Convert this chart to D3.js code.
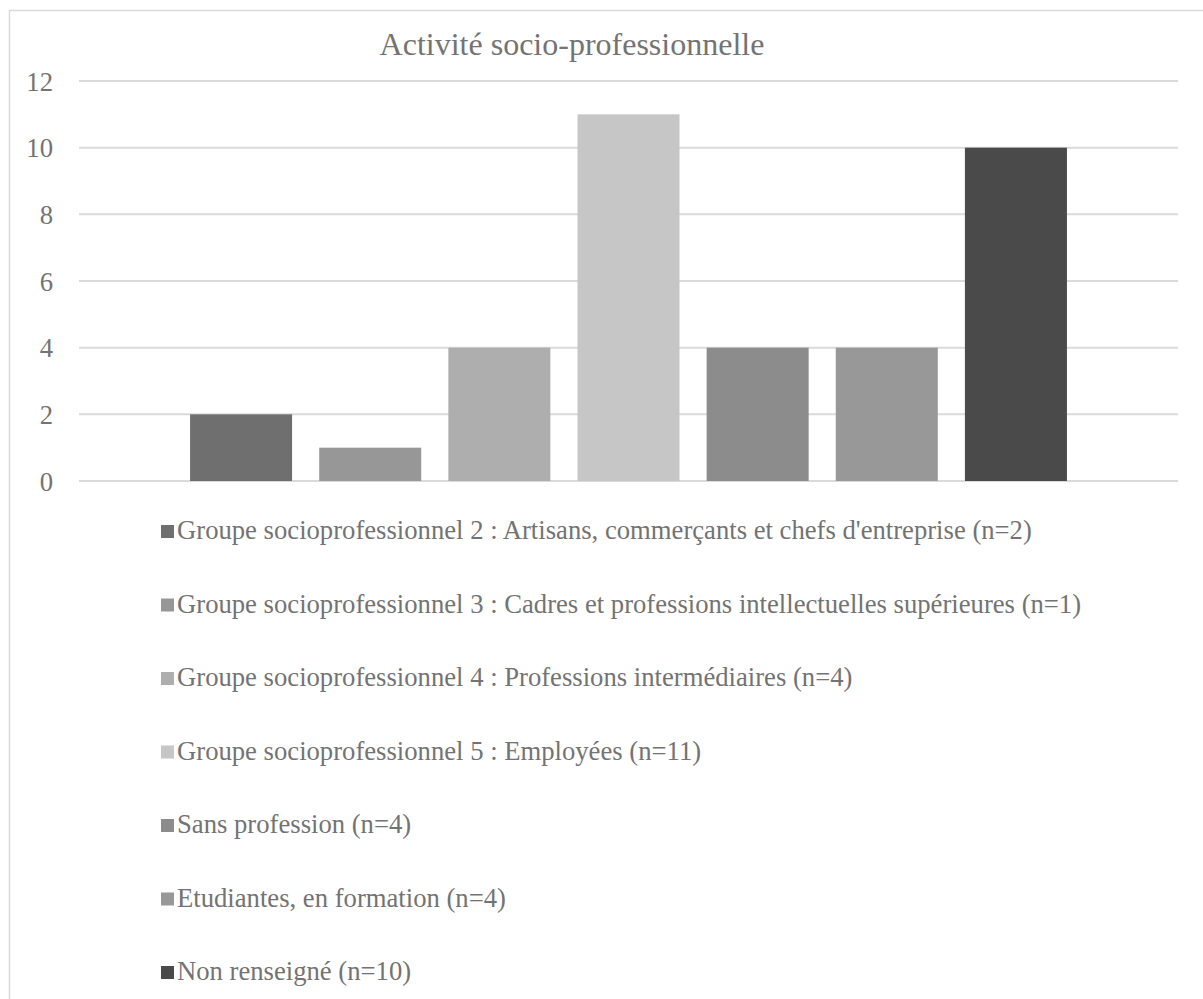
<!DOCTYPE html>
<html>
<head>
<meta charset="utf-8">
<script src="https://cdn.jsdelivr.net/npm/d3@7"></script>
</head>
<body style="margin:0; background:#fff">
<div id="socioPro"></div>
<script>
"use-strict";

const title = "Activité socio-professionnelle";
const categories = [
    "Groupe socioprofessionnel 2 : Artisans, commerçants et chefs d'entreprise (n=2)",
    "Groupe socioprofessionnel 3 : Cadres et professions intellectuelles supérieures (n=1)",
    "Groupe socioprofessionnel 4 : Professions intermédiaires (n=4)",
    "Groupe socioprofessionnel 5 : Employées (n=11)",
    "Sans profession (n=4)",
    "Etudiantes, en formation (n=4)",
    "Non renseigné (n=10)"
];
const values = [2, 1, 4, 11, 4, 4, 10];
const colors = ["#6f6f6f", "#979797", "#aeaeae", "#c6c6c6", "#8c8c8c", "#989898", "#4a4a4a"];
const yTicks = [0, 2, 4, 6, 8, 10, 12];

const cont = {
    width: 1203,
    height: 999,
    left: 79,
    right: 1178,
    top: 81,
    bottom: 481
}
const fontFam = "Liberation Serif";
const textColor = "#737373";
const labelSize = 26.67;

let svgContainer = d3.select("#socioPro")
    .append("svg")
    .attr("width", cont.width)
    .attr("height", cont.height)
    .attr("font-family", fontFam);

// chart border (runs past the right and bottom edges)
svgContainer.append("rect")
    .attr("x", 9.5)
    .attr("y", 10.5)
    .attr("width", 1300)
    .attr("height", 1100)
    .attr("fill", "none")
    .attr("stroke", "#d9d9d9")
    .attr("stroke-width", 1.5);

svgContainer.append("text")
    .attr("x", 572)
    .attr("y", 55)
    .attr("text-anchor", "middle")
    .attr("font-family", fontFam)
    .attr("font-size", 32)
    .attr("fill", textColor)
    .text(title);

let yScale = d3.scaleLinear()
    .domain([0, 12])
    .range([cont.bottom, cont.top]);

let xScale = d3.scaleBand()
    .domain(categories)
    .range([cont.left, cont.right])
    .paddingInner(0.21)
    .paddingOuter(0.86);

// gridlines
svgContainer.append("g")
    .selectAll("line")
    .data(yTicks)
    .enter()
    .append("line")
    .attr("x1", cont.left)
    .attr("x2", cont.right)
    .attr("y1", (d) => yScale(d))
    .attr("y2", (d) => yScale(d))
    .attr("stroke", "#dadada")
    .attr("stroke-width", 2);

let yAxis = d3.axisLeft(yScale).tickValues(yTicks).tickSize(0).tickPadding(0);
let yG = svgContainer.append("g")
    .attr("transform", "translate(53, 0)")
    .call(yAxis);
yG.attr("font-family", fontFam).attr("font-size", labelSize);
yG.select(".domain").remove();
yG.selectAll("text")
    .attr("dy", "0.34em")
    .attr("fill", textColor);

svgContainer.append("g")
    .selectAll("rect")
    .data(values)
    .enter()
    .append("rect")
    .attr("x", (d, i) => xScale(categories[i]))
    .attr("y", (d) => yScale(d))
    .attr("width", xScale.bandwidth())
    .attr("height", (d) => yScale(0) - yScale(d))
    .attr("fill", (d, i) => colors[i]);

// legend, one entry per row
let legend = svgContainer.append("g")
    .selectAll("g")
    .data(categories)
    .enter()
    .append("g")
    .attr("transform", (d, i) => "translate(161, " + (539 + i * 73.5) + ")");

legend.append("rect")
    .attr("x", 0)
    .attr("y", -14)
    .attr("width", 13)
    .attr("height", 13)
    .attr("fill", (d, i) => colors[i]);

legend.append("text")
    .attr("x", 16)
    .attr("y", 0)
    .attr("font-family", fontFam)
    .attr("font-size", labelSize)
    .attr("fill", textColor)
    .text((d) => d);
</script>
</body>
</html>
